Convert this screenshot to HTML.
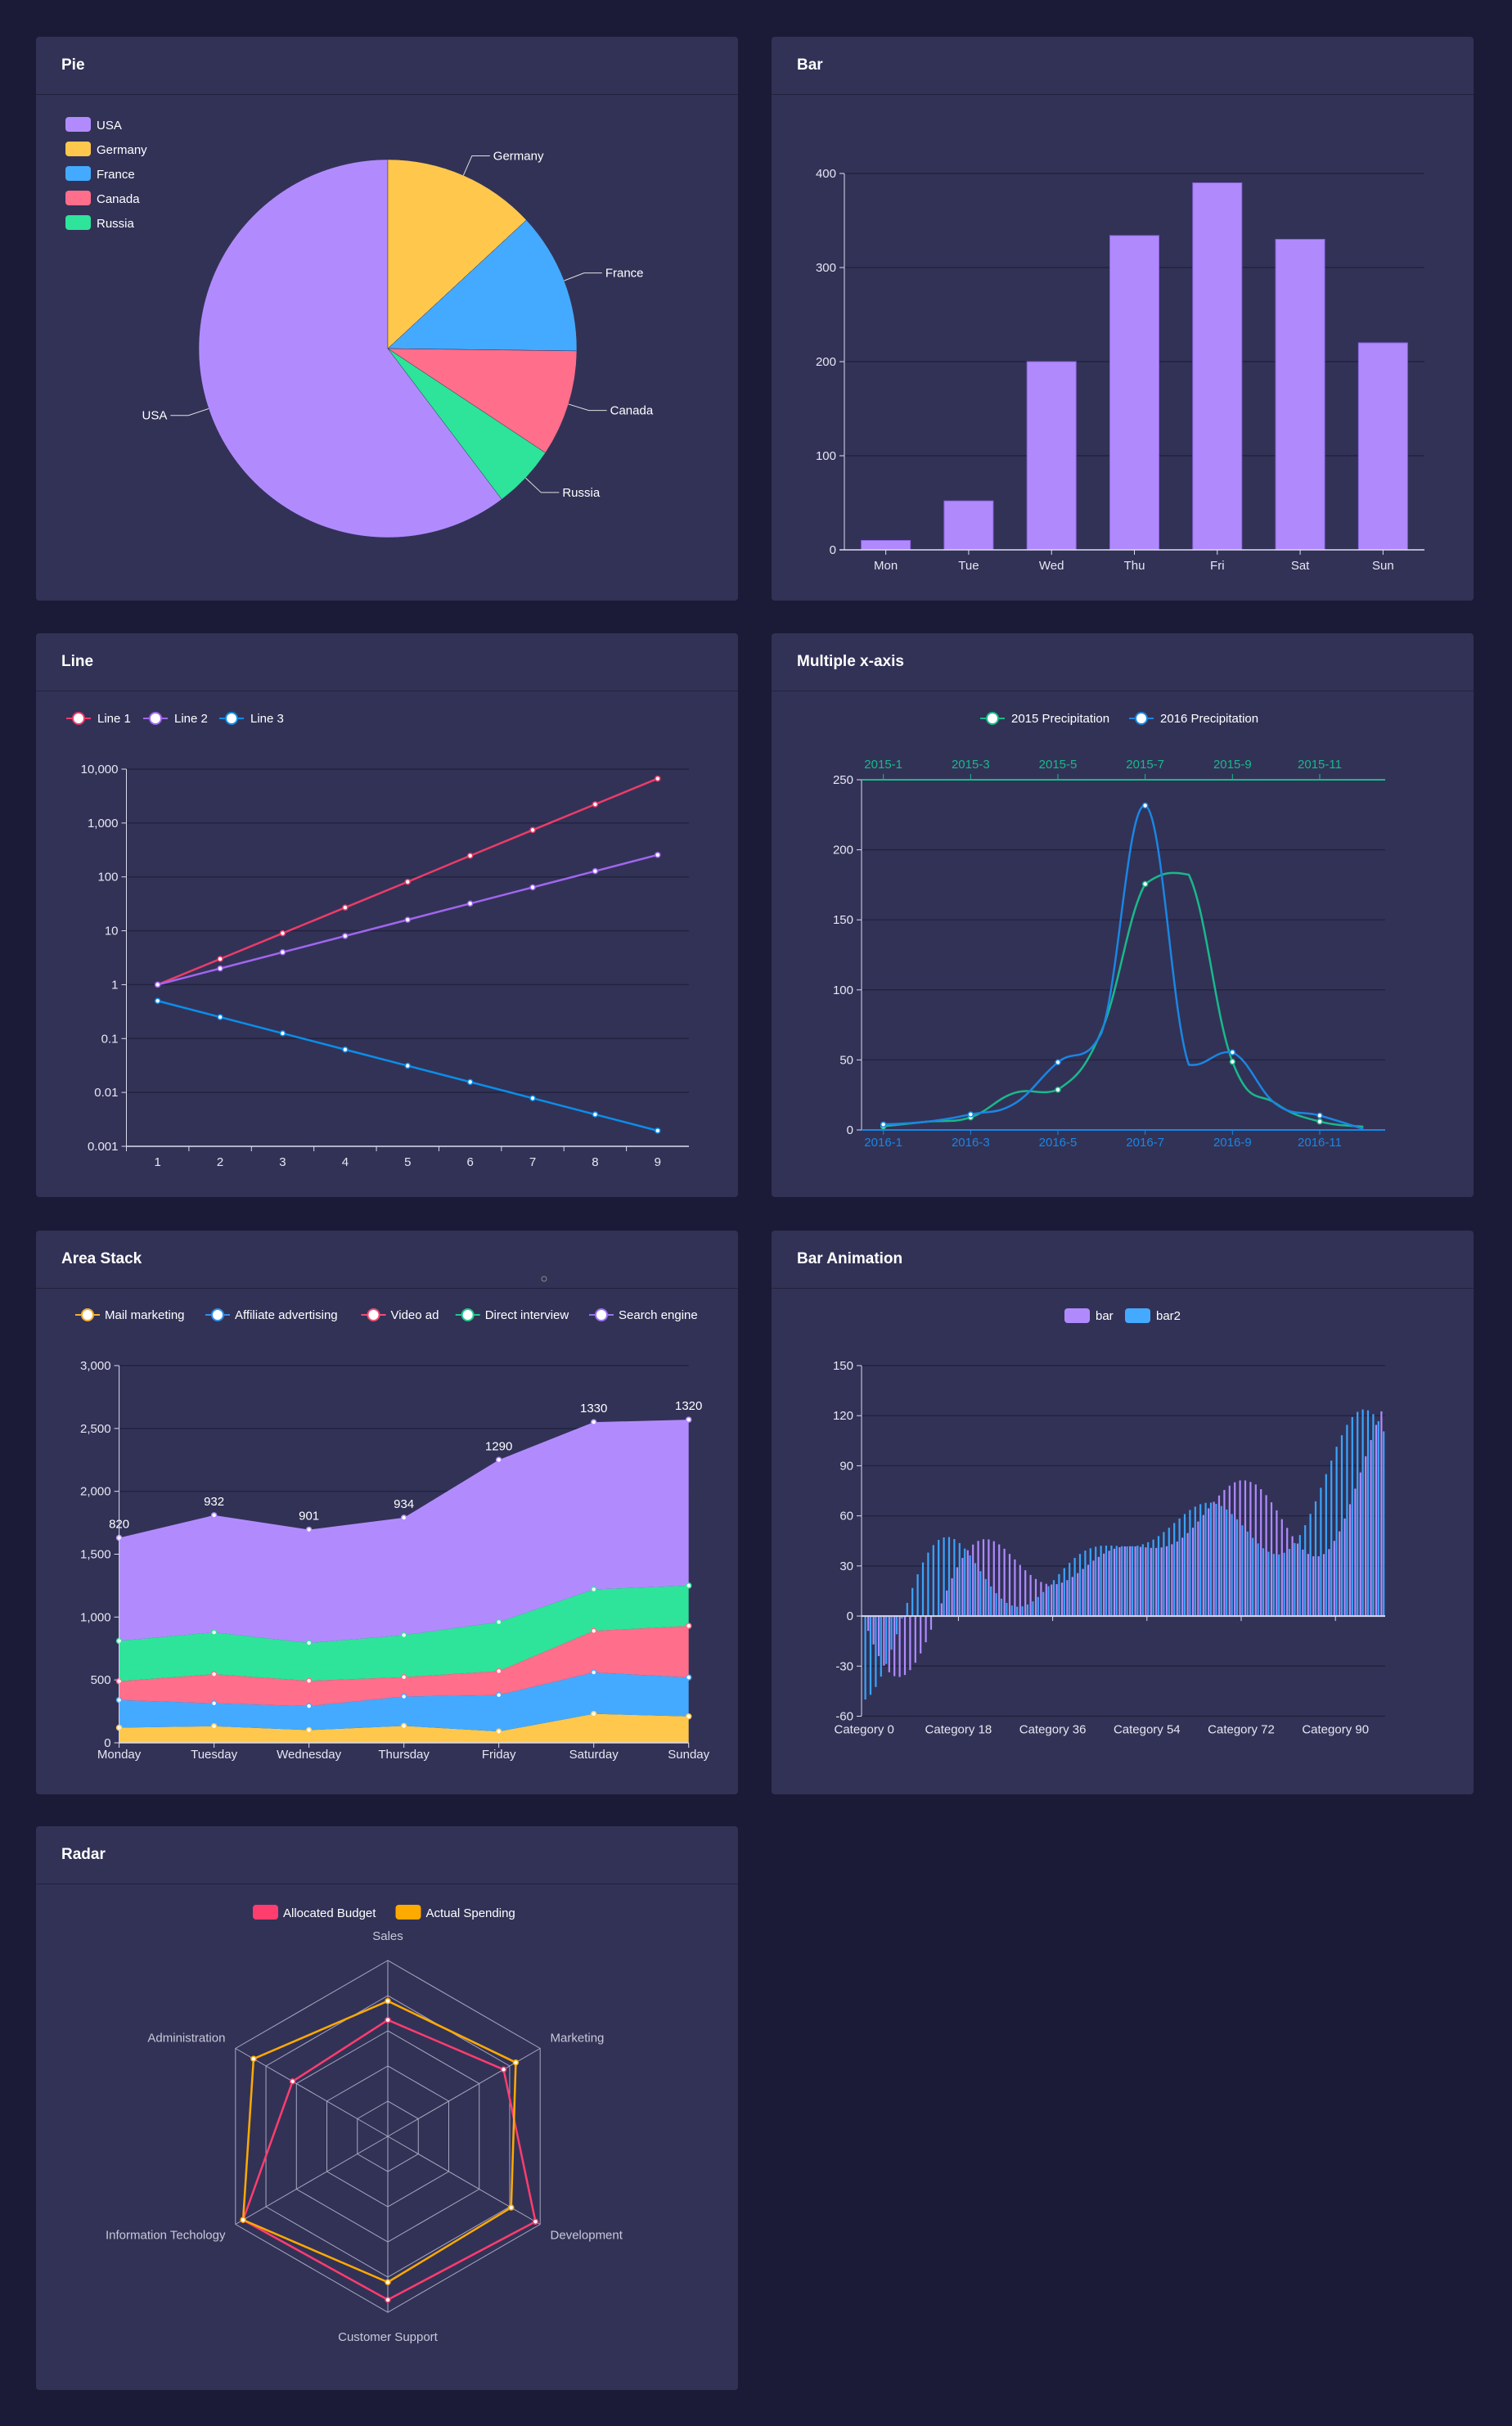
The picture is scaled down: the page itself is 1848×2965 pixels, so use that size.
<!DOCTYPE html>
<html><head><meta charset="utf-8">
<style>
html,body{margin:0;padding:0;background:#1c1b37;}
body{width:1848px;height:2965px;position:relative;overflow:hidden;font-family:"Liberation Sans",sans-serif;}
.panel{position:absolute;width:858px;height:689px;background:#323257;border-radius:4px;overflow:hidden;}
.ptitle{position:absolute;left:0;top:0;width:858px;height:70px;border-bottom:1px solid #21213d;}
.ptitle span{position:absolute;left:31px;top:24px;font-size:19px;font-weight:bold;color:#fff;}
.panel svg{position:absolute;left:0;top:0;}
svg text{font-family:"Liberation Sans",sans-serif;}
</style></head>
<body>
<div class="panel" style="left:44px;top:45px"><div class="ptitle"><span>Pie</span></div><svg id="s1" width="858" height="689"></svg></div>
<div class="panel" style="left:943px;top:45px"><div class="ptitle"><span>Bar</span></div><svg id="s2" width="858" height="689"></svg></div>
<div class="panel" style="left:44px;top:774px"><div class="ptitle"><span>Line</span></div><svg id="s3" width="858" height="689"></svg></div>
<div class="panel" style="left:943px;top:774px"><div class="ptitle"><span>Multiple x-axis</span></div><svg id="s4" width="858" height="689"></svg></div>
<div class="panel" style="left:44px;top:1504px"><div class="ptitle"><span>Area Stack</span></div><svg id="s5" width="858" height="689"></svg></div>
<div class="panel" style="left:943px;top:1504px"><div class="ptitle"><span>Bar Animation</span></div><svg id="s6" width="858" height="689"></svg></div>
<div class="panel" style="left:44px;top:2232px"><div class="ptitle"><span>Radar</span></div><svg id="s7" width="858" height="689"></svg></div>

<script>
// ---------- data ----------
const pieNames = ['USA','Germany','France','Canada','Russia'];
const pieValues = [60.3,13.1,12.1,9.1,5.4];
const pieColors = ['#b18bfd','#ffc84c','#44aaff','#ff6e8b','#2de49a'];

const barCats = ['Mon','Tue','Wed','Thu','Fri','Sat','Sun'];
const barValues = [10,52,200,334,390,330,220];
const barTicks = [0,100,200,300,400];

const lineCats = ['1','2','3','4','5','6','7','8','9'];
const line1 = [1,3,9,27,81,247,741,2223,6669];
const line2 = [1,2,4,8,16,32,64,128,256];
const line3 = [0.5,0.25,0.125,0.0625,0.03125,0.015625,0.0078125,0.00390625,0.001953125];
const lineTickLabels = ['0.001','0.01','0.1','1','10','100','1,000','10,000'];

const monthsTop = ['2015-1','2015-2','2015-3','2015-4','2015-5','2015-6','2015-7','2015-8','2015-9','2015-10','2015-11','2015-12'];
const monthsBottom = ['2016-1','2016-2','2016-3','2016-4','2016-5','2016-6','2016-7','2016-8','2016-9','2016-10','2016-11','2016-12'];
const precip2015 = [2.6,5.9,9.0,26.4,28.7,70.7,175.6,182.2,48.7,18.8,6.0,2.3];
const precip2016 = [3.9,5.9,11.1,18.7,48.3,69.2,231.6,46.6,55.4,18.4,10.3,0.7];
const precipTicks = [0,50,100,150,200,250];

const areaDays = ['Monday','Tuesday','Wednesday','Thursday','Friday','Saturday','Sunday'];
const areaNames = ['Mail marketing','Affiliate advertising','Video ad','Direct interview','Search engine'];
const mailData = [120,132,101,134,90,230,210];
const affiliateData = [220,182,191,234,290,330,310];
const videoData = [150,232,201,154,190,330,410];
const directData = [320,332,301,334,390,330,320];
const searchData = [820,932,901,934,1290,1330,1320];
const areaTicks = ['0','500','1,000','1,500','2,000','2,500','3,000'];

const animBar1 = [0,-8.9,-17.0,-24.0,-29.7,-33.7,-36.0,-36.5,-35.3,-32.4,-28.0,-22.4,-15.7,-8.2,-0.4,7.6,15.3,22.6,29.2,34.8,39.4,42.8,45.0,46.0,45.9,44.8,42.9,40.3,37.2,33.9,30.6,27.4,24.6,22.2,20.4,19.3,18.9,19.1,20.0,21.5,23.4,25.7,28.2,30.7,33.2,35.4,37.4,39.1,40.3,41.2,41.7,41.8,41.7,41.4,41.1,40.8,40.8,41.1,41.8,43.0,44.6,46.9,49.7,52.9,56.6,60.5,64.5,68.4,72.2,75.5,78.1,80.1,81.2,81.2,80.3,78.8,76.0,72.4,68.1,63.3,58.0,52.8,47.8,43.4,39.8,37.2,35.8,35.8,37.1,40.1,45.0,50.7,58.4,67.0,76.3,86.0,95.7,105.4,114.5,122.6];
const animBar2 = [-50,-47.2,-42.5,-36.3,-28.7,-20.2,-10.9,-1.5,7.9,16.8,25.0,32.1,38.0,42.5,45.6,47.1,47.3,46.1,43.7,40.4,36.3,31.7,26.9,22.2,17.7,13.7,10.4,7.9,6.3,5.6,5.8,6.9,8.8,11.4,14.4,17.9,21.5,25.1,28.7,31.9,34.8,37.2,39.2,40.6,41.5,42.1,42.2,42.2,42.0,41.8,41.7,41.8,42.2,43.0,44.2,45.8,47.9,50.3,52.9,55.7,58.4,61.1,63.5,65.5,67.0,67.8,67.9,67.2,65.9,63.8,61.1,57.9,54.3,50.6,46.8,43.5,40.6,38.5,37.2,36.9,37.9,40.2,43.7,48.5,54.4,61.2,68.7,76.8,85.0,93.1,101.4,108.3,114.5,119.2,122.3,123.7,123.2,120.9,116.7,110.6];
const animTicks = [-60,-30,0,30,60,90,120,150];

const radarIndicators = ['Sales','Administration','Information Techology','Customer Support','Development','Marketing'];
const radarMax = [6500,16000,30000,38000,52000,25000];
const budgetData = [4300,10000,28500,35300,50400,19000];
const spendingData = [5000,14100,28500,31500,42100,21000];

// ---------- helpers ----------
const NS='http://www.w3.org/2000/svg';
function mk(p,tag,a,txt){const e=document.createElementNS(NS,tag);for(const k in a)e.setAttribute(k,a[k]);if(txt!==undefined)e.textContent=txt;p.appendChild(e);return e;}
const GRID='#23233f', AX='#dcdcf0', LBL='#e6e6f2';

// ---------- Pie ----------
(function(){
const s=document.getElementById('s1');
const cx=430,cy=381,r=231;
const tot=pieValues.reduce((a,b)=>a+b,0);
let a0=-pieValues[0]/tot*Math.PI*2;
pieValues.forEach((v,i)=>{
  const a1=a0+v/tot*Math.PI*2;
  const x0=cx+r*Math.sin(a0),y0=cy-r*Math.cos(a0),x1=cx+r*Math.sin(a1),y1=cy-r*Math.cos(a1);
  const sl=mk(s,'path',{d:`M${cx},${cy}L${x0},${y0}A${r},${r} 0 ${a1-a0>Math.PI?1:0} 1 ${x1},${y1}Z`,fill:pieColors[i],stroke:'#323257','stroke-width':0.5});
  
  
  const m=(a0+a1)/2, sx=Math.sin(m), cyy=-Math.cos(m);
  const ex=cx+r*sx,ey=cy+r*cyy, bx=cx+(r+26)*sx, by=cy+(r+26)*cyy;
  const dir=sx>=0?1:-1;
  const ln=mk(s,'polyline',{points:`${ex},${ey} ${bx},${by} ${bx+dir*22},${by}`,fill:'none',stroke:'#e0e0e0','stroke-width':1});
  
  
  const t=mk(s,'text',{x:bx+dir*26,y:by+5,fill:'#fff','font-size':15,'text-anchor':dir>0?'start':'end'},pieNames[i]);
  
  
  a0=a1;
});
pieNames.forEach((n,i)=>{
  const g=mk(s,'g',{});
  
  
  mk(g,'rect',{x:36,y:98+i*30,width:31,height:18,rx:4,fill:pieColors[i]});
  mk(g,'text',{x:74,y:113+i*30,fill:'#fff','font-size':15},n);
});
})();

// ---------- Bar ----------
(function(){
const s=document.getElementById('s2');
const L=89,R=798,T=167,B=627,max=400;
const y=v=>B-(v/max)*(B-T); const cw=(R-L)/barCats.length; const x=i=>L+cw*(i+0.5);
barTicks.forEach(v=>{
  if(v>0){const g=mk(s,'line',{x1:L,x2:R,y1:y(v),y2:y(v),stroke:GRID,'stroke-width':1.5});
  
  }
  mk(s,'line',{x1:L-6,x2:L,y1:y(v),y2:y(v),stroke:AX});
  const t=mk(s,'text',{x:L-10,y:y(v)+5,fill:LBL,'font-size':15,'text-anchor':'end'},String(v));
  
  
});
mk(s,'line',{x1:L,x2:L,y1:T,y2:B,stroke:AX});
barValues.forEach((v,i)=>{
  const b=mk(s,'rect',{x:x(i)-30,y:y(v),width:60,height:B-y(v),fill:'#b08afd',stroke:'#8a63e0','stroke-width':1});
  
  
  mk(s,'line',{x1:x(i),x2:x(i),y1:B,y2:B+6,stroke:AX});
  const t=mk(s,'text',{x:x(i),y:B+24,fill:LBL,'font-size':15,'text-anchor':'middle'},barCats[i]);
  
  
});
const xa=mk(s,'line',{x1:L-6,x2:R,y1:B,y2:B,stroke:AX,'stroke-width':1.5});


})();

function lineIcon(g,x,yc,col){mk(g,'line',{x1:x,x2:x+30,y1:yc,y2:yc,stroke:col,'stroke-width':2});mk(g,'circle',{cx:x+15,cy:yc,r:7,fill:'#fff',stroke:col,'stroke-width':2});}

// ---------- Line (log) ----------
(function(){
const s=document.getElementById('s3');
const L=110.5,R=798,T=166,B=627;
const y=v=>B-(Math.log10(v)+3)/7*(B-T); const cw=(R-L)/lineCats.length; const x=i=>L+cw*(i+0.5);
lineTickLabels.forEach((lb,k)=>{
  const yy=B-k/7*(B-T);
  if(k>0){const g=mk(s,'line',{x1:L,x2:R,y1:yy,y2:yy,stroke:GRID,'stroke-width':1.5});
  
  }
  mk(s,'line',{x1:L-6,x2:L,y1:yy,y2:yy,stroke:AX});
  const t=mk(s,'text',{x:L-10,y:yy+5,fill:LBL,'font-size':15,'text-anchor':'end'},lb);
  
  
});
mk(s,'line',{x1:L,x2:L,y1:T,y2:B,stroke:AX});
mk(s,'line',{x1:L,x2:R,y1:B,y2:B,stroke:AX,'stroke-width':1.5});
lineCats.forEach((c,i)=>{
  mk(s,'line',{x1:L+cw*i,x2:L+cw*i,y1:B,y2:B+6,stroke:AX});
  const t=mk(s,'text',{x:x(i),y:B+24,fill:LBL,'font-size':15,'text-anchor':'middle'},c);
  
  
});
const series=[[line1,'#ec3c68','Line 1'],[line2,'#a066ee','Line 2'],[line3,'#0b8ee8','Line 3']];
series.forEach(([d,col,n],si)=>{
  const p=mk(s,'polyline',{points:d.map((v,i)=>x(i)+','+y(v)).join(' '),fill:'none',stroke:col,'stroke-width':2.5});
  
  
  d.forEach((v,i)=>{mk(s,'circle',{cx:x(i),cy:y(v),r:3,fill:'#fff',stroke:col,'stroke-width':1.5});});
  const g=mk(s,'g',{});
  
  
  const lx=[37,131,224][si];
  lineIcon(g,lx,104,col);
  mk(g,'text',{x:lx+38,y:109,fill:'#fff','font-size':15},n);
});
})();

function smoothPath(pts){
  let d=`M${pts[0][0]},${pts[0][1]}`;
  for(let i=0;i<pts.length-1;i++){
    const p0=pts[i-1]||pts[i],p1=pts[i],p2=pts[i+1],p3=pts[i+2]||p2;
    const k=0.2;
    const c1=[p1[0]+(p2[0]-p0[0])*k,p1[1]+(p2[1]-p0[1])*k];
    const c2=[p2[0]-(p3[0]-p1[0])*k,p2[1]-(p3[1]-p1[1])*k];
    const lo=Math.min(p1[1],p2[1]),hi=Math.max(p1[1],p2[1]);
    c1[1]=Math.max(lo-4,Math.min(hi+4,c1[1]));c2[1]=Math.max(lo-4,Math.min(hi+4,c2[1]));
    d+=`C${c1[0]},${c1[1]} ${c2[0]},${c2[1]} ${p2[0]},${p2[1]}`;
  }
  return d;
}

// ---------- Multiple x-axis ----------
(function(){
const s=document.getElementById('s4');
const L=110,R=750,T=179,B=607,max=250;
const y=v=>B-v/max*(B-T); const cw=(R-L)/12; const x=i=>L+cw*(i+0.5);
const G='#19b98a',BL='#1a86e2';
precipTicks.forEach(v=>{
  if(v>0&&v<max){const g=mk(s,'line',{x1:L,x2:R,y1:y(v),y2:y(v),stroke:GRID,'stroke-width':1.5});
  
  }
  mk(s,'line',{x1:L-6,x2:L,y1:y(v),y2:y(v),stroke:AX});
  const t=mk(s,'text',{x:L-10,y:y(v)+5,fill:LBL,'font-size':15,'text-anchor':'end'},String(v));
  
  
});
mk(s,'line',{x1:L,x2:L,y1:T,y2:B,stroke:AX});
const ta=mk(s,'line',{x1:L,x2:R,y1:T,y2:T,stroke:G,'stroke-width':2});


const ba=mk(s,'line',{x1:L,x2:R,y1:B,y2:B,stroke:BL,'stroke-width':2});


monthsTop.forEach((m,i)=>{
  if(i%2) return;
  mk(s,'line',{x1:x(i),x2:x(i),y1:T,y2:T-7,stroke:G});
  const t=mk(s,'text',{x:x(i),y:T-14,fill:G,'font-size':15,'text-anchor':'middle'},m);
  
  
  mk(s,'line',{x1:x(i),x2:x(i),y1:B,y2:B+6,stroke:BL});
  const t2=mk(s,'text',{x:x(i),y:B+20,fill:BL,'font-size':15,'text-anchor':'middle'},monthsBottom[i]);
  
  
});
[[precip2015,G,'2015 Precipitation',255],[precip2016,BL,'2016 Precipitation',437]].forEach(([d,col,n,lx])=>{
  const p=mk(s,'path',{d:smoothPath(d.map((v,i)=>[x(i),y(v)])),fill:'none',stroke:col,'stroke-width':2.5});
  
  
  d.forEach((v,i)=>{if(i%2===0)mk(s,'circle',{cx:x(i),cy:y(v),r:3,fill:'#fff',stroke:col,'stroke-width':1.5});});
  const g=mk(s,'g',{});
  
  
  lineIcon(g,lx,104,col);
  mk(g,'text',{x:lx+38,y:109,fill:'#fff','font-size':15},n);
});
})();

// ---------- Area Stack ----------
(function(){
const s=document.getElementById('s5');
const L=101.6,R=797.7,T=165,B=626,max=3000;
const y=v=>B-v/max*(B-T); const x=i=>L+(R-L)/6*i;
areaTicks.forEach((lb,k)=>{
  const yy=B-k/6*(B-T);
  if(k>0){const g=mk(s,'line',{x1:L,x2:R,y1:yy,y2:yy,stroke:GRID,'stroke-width':1.5});
  
  }
  mk(s,'line',{x1:L-6,x2:L,y1:yy,y2:yy,stroke:AX});
  const t=mk(s,'text',{x:L-10,y:yy+5,fill:LBL,'font-size':15,'text-anchor':'end'},lb);
  
  
});
const data=[mailData,affiliateData,videoData,directData,searchData];
const cols=['#ffc84c','#44aaff','#ff6e8b','#2de49a','#b18bfd'];
const lineCols=['#f0b030','#2f8fe8','#ef4f73','#1fc98a','#9a72f0'];
let base=areaDays.map(()=>0);
const tops=[];
data.forEach((d,si)=>{
  const top=d.map((v,i)=>base[i]+v);
  const pts=top.map((v,i)=>x(i)+','+y(v)).join(' ');
  const bot=base.map((v,i)=>x(i)+','+y(v)).reverse().join(' ');
  const a=mk(s,'polygon',{points:pts+' '+bot,fill:cols[si]});
  
  
  tops.push(top);
  base=top;
});
tops.forEach((top,si)=>{
  top.forEach((v,i)=>{mk(s,'circle',{cx:x(i),cy:y(v),r:3,fill:'#fff',stroke:cols[si],'stroke-width':1.5});});
});
searchData.forEach((v,i)=>{
  const t=mk(s,'text',{x:x(i),y:y(tops[4][i])-12,fill:'#fff','font-size':15,'text-anchor':'middle'},String(v));
  
  
});
mk(s,'line',{x1:L,x2:L,y1:T,y2:B,stroke:AX});
mk(s,'line',{x1:L,x2:R,y1:B,y2:B,stroke:AX,'stroke-width':1.5});
areaDays.forEach((dname,i)=>{
  mk(s,'line',{x1:x(i),x2:x(i),y1:B,y2:B+6,stroke:AX});
  const t=mk(s,'text',{x:x(i),y:B+19,fill:LBL,'font-size':15,'text-anchor':'middle'},dname);
  
  
});
const lx=[48,207,397.5,512.7,676];
areaNames.forEach((n,i)=>{
  const g=mk(s,'g',{});
  
  
  lineIcon(g,lx[i],103,lineCols[i]);
  mk(g,'text',{x:lx[i]+36,y:108,fill:'#fff','font-size':15},n);
});
mk(s,'circle',{cx:621,cy:59,r:3,fill:'none',stroke:'#888','stroke-width':1});
})();

// ---------- Bar Animation ----------
(function(){
const s=document.getElementById('s6');
const L=110,R=750,T=165,B=593.5,min=-60,max=150;
const y=v=>B-(v-min)/(max-min)*(B-T); const cw=(R-L)/100; const x=i=>L+cw*(i+0.5);
animTicks.forEach(v=>{
  const g=mk(s,'line',{x1:L,x2:R,y1:y(v),y2:y(v),stroke:GRID,'stroke-width':1.5});
  
  
  mk(s,'line',{x1:L-6,x2:L,y1:y(v),y2:y(v),stroke:AX});
  const t=mk(s,'text',{x:L-10,y:y(v)+5,fill:LBL,'font-size':15,'text-anchor':'end'},String(v));
  
  
});
mk(s,'line',{x1:L,x2:L,y1:T,y2:B,stroke:AX});
animBar1.forEach((v,i)=>{
  const b=mk(s,'rect',{x:x(i)-2.5,y:Math.min(y(v),y(0)),width:2.2,height:Math.abs(y(v)-y(0)),fill:'#b08afd'});
  
  
});
animBar2.forEach((v,i)=>{
  const b=mk(s,'rect',{x:x(i)+0.3,y:Math.min(y(v),y(0)),width:2.2,height:Math.abs(y(v)-y(0)),fill:'#3aa4fb'});
  
  
});
mk(s,'line',{x1:L,x2:R,y1:y(0),y2:y(0),stroke:'#d8d8ee','stroke-width':2});
for(let i=0;i<100;i+=18){
  if(i>0) mk(s,'line',{x1:x(i),x2:x(i),y1:y(0),y2:y(0)+6,stroke:AX});
  const t=mk(s,'text',{x:x(i),y:B+21,fill:LBL,'font-size':15,'text-anchor':'middle'},'Category '+i);
  
  
}
[['bar','#b08afd',358],['bar2','#44aaff',432]].forEach(([n,c,lx])=>{
  const g=mk(s,'g',{});
  
  
  mk(g,'rect',{x:lx,y:95,width:31,height:18,rx:4,fill:c});
  mk(g,'text',{x:lx+38,y:109,fill:'#fff','font-size':15},n);
});
})();

// ---------- Radar ----------
(function(){
const s=document.getElementById('s7');
const cx=430,cy=379,r=215,n=radarIndicators.length;
const ang=i=>-Math.PI/2-i*2*Math.PI/n;
const pt=(i,f)=>[cx+r*f*Math.cos(ang(i)),cy+r*f*Math.sin(ang(i))];
for(let k=1;k<=5;k++){
  const poly=mk(s,'polygon',{points:radarIndicators.map((_,i)=>pt(i,k/5).join(',')).join(' '),fill:'none',stroke:'#a8a8c0','stroke-width':1});
  
  
}
radarIndicators.forEach((lb,i)=>{
  const p=pt(i,1);
  mk(s,'line',{x1:cx,y1:cy,x2:p[0],y2:p[1],stroke:'#a8a8c0','stroke-width':1});
  const q=pt(i,1.12);
  const c=Math.cos(ang(i));
  const anchor=Math.abs(c)<0.1?'middle':(c>0?'start':'end');
  const t=mk(s,'text',{x:q[0]+(anchor==='start'?-10:anchor==='end'?10:0),y:q[1]+5+(Math.abs(c)<0.1?(Math.sin(ang(i))<0?-4:4):0),fill:'#c8c8d8','font-size':15,'text-anchor':anchor},lb);
  
  
});
[[budgetData,'#ff3d6e','Allocated Budget',265],[spendingData,'#ffaa00','Actual Spending',439.5]].forEach(([d,col,nm,lx])=>{
  const pts=d.map((v,i)=>pt(i,v/radarMax[i]));
  const p=mk(s,'polygon',{points:pts.map(q=>q.join(',')).join(' '),fill:'none',stroke:col,'stroke-width':2.5});
  
  
  pts.forEach(q=>mk(s,'circle',{cx:q[0],cy:q[1],r:3,fill:'#fff',stroke:col,'stroke-width':1.5}));
  const g=mk(s,'g',{});
  
  
  mk(g,'rect',{x:lx,y:96,width:31,height:18,rx:4,fill:col});
  mk(g,'text',{x:lx+37,y:111,fill:'#fff','font-size':15},nm);
});
})();
</script>
</body></html>
